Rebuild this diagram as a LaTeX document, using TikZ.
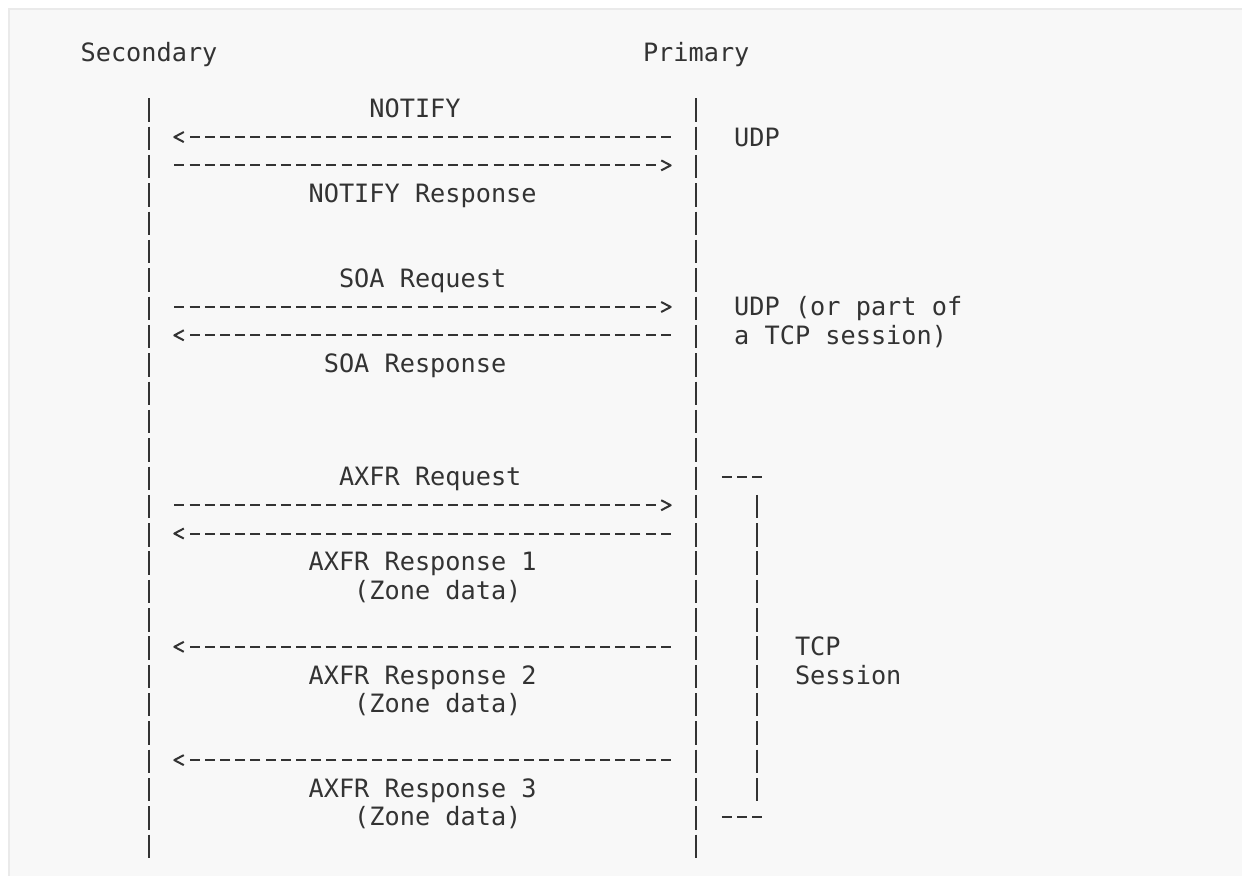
\documentclass[tikz,border=0pt]{standalone}
\usepackage{fontspec}
\newfontfamily\monof{DejaVu Sans Mono}
\definecolor{ink}{HTML}{333333}
\definecolor{bgc}{HTML}{F8F8F8}
\definecolor{bordc}{HTML}{EAEAEA}
\newcommand\colX[1]{(149+(#1-0.5)*15.2)}
\newcommand\rowY[1]{(53.4+28.32*#1)}
\pgfdeclarearrow{
  name = Chev,
  setup code = {
    \pgfarrowssettipend{1pt}
    \pgfarrowssetlineend{-13pt}
    \pgfarrowssetvisualbackend{-9.5pt}
    \pgfarrowssetbackend{-10.5pt}
    \pgfarrowshullpoint{1pt}{0pt}
    \pgfarrowshullpoint{-10.5pt}{6pt}
    \pgfarrowshullpoint{-10.5pt}{-6pt}
  },
  drawing code = {
    \pgfsetdash{}{0pt}
    \pgfsetlinewidth{2pt}
    \pgfsetroundjoin
    \pgfsetbuttcap
    \pgfpathmoveto{\pgfqpoint{-9.5pt}{5pt}}
    \pgfpathlineto{\pgfqpoint{0pt}{0pt}}
    \pgfpathlineto{\pgfqpoint{-9.5pt}{-5pt}}
    \pgfusepathqstroke
  }
}
\tikzset{
  lbl/.style={anchor=base west, inner sep=0pt, outer sep=0pt, text=ink,
    font=\monof\fontsize{25.25}{30}\selectfont},
  dashrow/.style={draw=ink, line width=2pt, dash pattern=on 10pt off 5.2pt},
  msg/.style={dashrow, -{Chev}},
  lifeline/.style={draw=ink, line width=2.1pt, dash pattern=on 23.4pt off 4.92pt}
}
\newcommand\msgRight[1]{%
  \coordinate (s#1) at (174.4,{\rowY{#1}-1.3});
  \coordinate (p#1) at (671.7,{\rowY{#1}-1.3});
  \draw[msg] (s#1) -- (p#1);}
\newcommand\msgLeft[1]{%
  \coordinate (p#1) at (670.8,{\rowY{#1}-1.3});
  \coordinate (s#1) at (173.3,{\rowY{#1}-1.3});
  \draw[msg] (p#1) -- (s#1);}
\begin{document}
\begin{tikzpicture}[x=1pt,y=-1pt]
\useasboundingbox (0,0) rectangle (1242,876);
\fill[white] (0,0) rectangle (1242,876);
\fill[bordc] (8,8) rectangle (1242,876);
\fill[bgc] (10.4,10.4) rectangle (1242,876);

% headers
\node[lbl] (secondary) at ({\colX{-4}},{\rowY{0}+7.7}) {Secondary};
\node[lbl] (primary) at ({\colX{33}},{\rowY{0}+7.7}) {Primary};

% lifelines
\coordinate (secT) at (149,98.34);
\coordinate (secB) at (149,858.06);
\coordinate (priT) at (696.2,98.34);
\coordinate (priB) at (696.2,858.06);
\draw[lifeline] (secT) -- (secB);
\draw[lifeline] (priT) -- (priB);

% messages
\node[lbl] (notify) at ({\colX{15}},{\rowY{2}+7.7}) {NOTIFY};
\msgLeft{3}
\node[lbl] (udpA) at ({\colX{39}},{\rowY{3}+7.7}) {UDP};
\msgRight{4}
\node[lbl] (notifyr) at ({\colX{11}},{\rowY{5}+7.7}) {NOTIFY Response};

\node[lbl] (soaq) at ({\colX{13}},{\rowY{8}+7.7}) {SOA Request};
\msgRight{9}
\node[lbl] (udpB) at ({\colX{39}},{\rowY{9}+7.7}) {UDP (or part of};
\msgLeft{10}
\node[lbl] (udpC) at ({\colX{39}},{\rowY{10}+7.7}) {a TCP session)};
\node[lbl] (soar) at ({\colX{12}},{\rowY{11}+7.7}) {SOA Response};

\node[lbl] (axq) at ({\colX{13}},{\rowY{15}+7.7}) {AXFR Request};
\msgRight{16}
\msgLeft{17}
\node[lbl] (axa) at ({\colX{11}},{\rowY{18}+7.7}) {AXFR Response 1};
\node[lbl] (zda) at ({\colX{14}},{\rowY{19}+7.7}) {(Zone data)};
\msgLeft{21}
\node[lbl] (axb) at ({\colX{11}},{\rowY{22}+7.7}) {AXFR Response 2};
\node[lbl] (zdb) at ({\colX{14}},{\rowY{23}+7.7}) {(Zone data)};
\msgLeft{25}
\node[lbl] (axc) at ({\colX{11}},{\rowY{26}+7.7}) {AXFR Response 3};
\node[lbl] (zdc) at ({\colX{14}},{\rowY{27}+7.7}) {(Zone data)};

% TCP session bracket
\coordinate (brA) at (721.8,{\rowY{15}-1.3});
\coordinate (brB) at (762.2,{\rowY{15}-1.3});
\coordinate (brV) at (757,{\rowY{16}-11.7});
\coordinate (brW) at (757,{\rowY{26}+11.7});
\coordinate (brC) at (721.8,{\rowY{27}-1.3});
\coordinate (brD) at (762.2,{\rowY{27}-1.3});
\draw[dashrow] (brA) -- (brB);
\draw[lifeline] (brV) -- (brW);
\draw[dashrow] (brC) -- (brD);
\node[lbl] (tcp) at ({\colX{43}},{\rowY{21}+7.7}) {TCP};
\node[lbl] (sess) at ({\colX{43}},{\rowY{22}+7.7}) {Session};
\end{tikzpicture}
\end{document}
